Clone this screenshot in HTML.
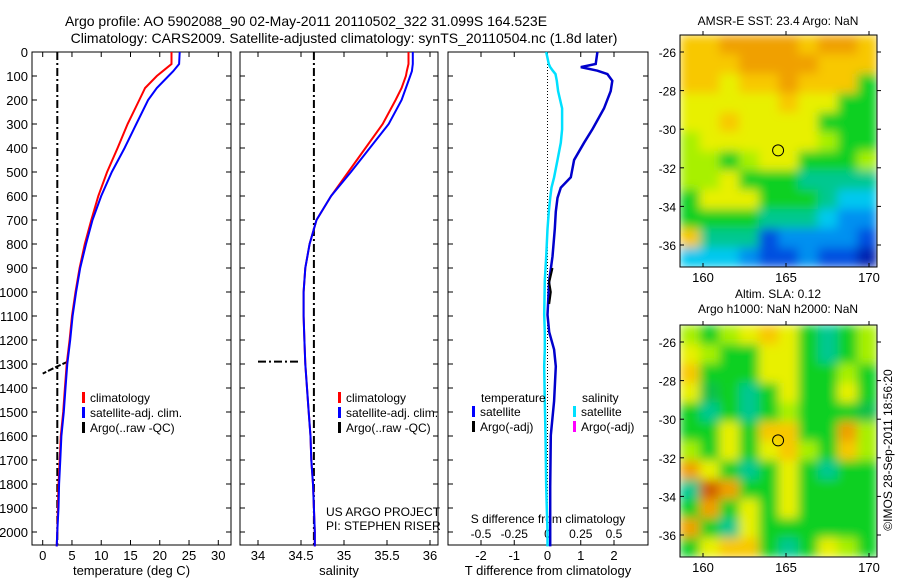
<!DOCTYPE html>
<html><head><meta charset="utf-8">
<style>
html,body{margin:0;padding:0;background:#fff;}
svg{display:block;font-family:"Liberation Sans",sans-serif;}
</style></head>
<body>
<svg id="chart" width="900" height="580" viewBox="0 0 900 580" xmlns="http://www.w3.org/2000/svg">
<defs>
<filter id="blur" x="0" y="0" width="1" height="1"><feGaussianBlur stdDeviation="5" edgeMode="duplicate"/></filter>
<clipPath id="clip1"><rect x="680" y="35" width="197" height="232"/></clipPath>
<clipPath id="clip2"><rect x="680" y="325" width="197" height="232"/></clipPath>
</defs>
<text x="306" y="26" font-size="14" text-anchor="middle">Argo profile: AO 5902088_90 02-May-2011 20110502_322 31.099S 164.523E</text>
<text x="344" y="43" font-size="14" text-anchor="middle">Climatology: CARS2009. Satellite-adjusted climatology: synTS_20110504.nc (1.8d later)</text>
<g id="g"></g>
</svg>
<script>
// ---- data ----
const depthTicks=[0,100,200,300,400,500,600,700,800,900,1000,1100,1200,1300,1400,1500,1600,1700,1800,1900,2000];
const tempTicks=[0,5,10,15,20,25,30];
const salTicks=[34,34.5,35,35.5,36];
const tdiffTicks=[-2,-1,0,1,2];
const sdiffTicks=[-0.5,-0.25,0,0.25,0.5];
const sdiffLabels=["-0.5","-0.25","0","0.25","0.5"];
const tempClimDepth=[0,50,80,100,150,200,300,400,500,600,700,800,900,1000,1100,1200,1300,1400,1500,1600,1700,1800,1900,2000,2060];
const tempClim=[22,22,20.5,19.5,17.5,16.5,14.5,12.8,11,9.5,8.3,7.2,6.3,5.6,5,4.6,4.1,3.8,3.5,3.1,2.9,2.7,2.6,2.5,2.4];
const tempSat=[23.4,23.3,22.3,21.5,19.5,18,16,14,11.8,10,8.5,7.4,6.4,5.7,5.1,4.7,4.2,3.9,3.6,3.2,3,2.8,2.7,2.5,2.4];
const salClim=[35.75,35.75,35.73,35.72,35.67,35.6,35.45,35.25,35.05,34.85,34.68,34.6,34.55,34.53,34.53,34.54,34.55,34.57,34.59,34.61,34.62,34.64,34.65,34.66,34.66];
const salSat=[35.8,35.8,35.79,35.77,35.72,35.67,35.52,35.3,35.08,34.85,34.68,34.6,34.55,34.53,34.53,34.54,34.55,34.57,34.59,34.61,34.62,34.64,34.65,34.66,34.66];
const argoTemp=2.5, argoSal=34.65;
const diffDepth=[0,50,63,78,92,120,163,235,322,378,450,522,565,608,665,737,852,952,1095,1167,1240,1310,1454,1597,1812,2000,2060];
const tDiff=[1.5,1.45,1.0,1.5,1.8,1.95,1.9,1.7,1.35,1.1,0.8,0.7,0.4,0.3,0.25,0.22,0.15,0.05,0,0.05,0.2,0.25,0.2,0.1,0.08,0.08,0.08];
const sDiff=[-0.01,0.01,0.02,0.04,0.06,0.07,0.08,0.11,0.11,0.1,0.075,0.05,0.03,0.02,0.01,0.0,-0.01,-0.02,-0.025,-0.02,-0.02,-0.025,-0.02,-0.015,-0.01,0,0];
const latTicks=[-26,-28,-30,-32,-34,-36];
const lonTicks=[160,165,170];
const sstGrid=["YYOOOOYOOY","YYYOOOOYYY","YYyYYOYYYg","yyyyyYyygg","yyYyyyyggg","lyyyyyylgg","llglyygggl","llygggtttt","gyyygggtcc","ggggtttcbb","YtttBbbbbB","cccbBBbBBD"];
const slaGrid=["lglyYygtgl","ylggyygtgl","Ygggyygglg","yGgtgyggyg","gtgtglgggG","ggygYYggOl","lgygyYlgYl","Oygtgygtgg","tROggygggg","gOgygygggg","Ogtygggggg","gyYYgtgylg"];
const colors={O:"#f0a000",Y:"#f8c800",y:"#e8f000",l:"#a8f000",g:"#10d020",G:"#10c048",t:"#00c890",c:"#00c8f0",b:"#0090f0",B:"#0050e0",D:"#0020b0",R:"#d06000"};
// ---- helpers ----
const NS="http://www.w3.org/2000/svg";
const G=document.getElementById('g');
function mk(t,a,p){const e=document.createElementNS(NS,t);for(const k in a)e.setAttribute(k,a[k]);(p||G).appendChild(e);return e;}
const yTop=52, yPerD=0.24, yBot=545;
const yD=d=>yTop+d*yPerD;
function panel(x0,x1,name,xs,ticks,labels,xlabel,leftLabels){
  const r=mk('rect',{x:x0,y:yTop,width:x1-x0,height:yBot-yTop,fill:'none',stroke:'#000','stroke-width':1});
  
  
  depthTicks.forEach(d=>{
    mk('line',{x1:x0,x2:x0+5,y1:yD(d),y2:yD(d),stroke:'#000'});
    mk('line',{x1:x1,x2:x1-5,y1:yD(d),y2:yD(d),stroke:'#000'});
    if(leftLabels){const t=mk('text',{x:x0-4,y:yD(d)+5,'font-size':13,'text-anchor':'end'});t.textContent=d;
      
      }
  });
  ticks.forEach((v,i)=>{
    mk('line',{x1:xs(v),x2:xs(v),y1:yBot,y2:yBot-5,stroke:'#000'});
    mk('line',{x1:xs(v),x2:xs(v),y1:yTop,y2:yTop+5,stroke:'#000'});
    const t=mk('text',{x:xs(v),y:yBot+15,'font-size':13,'text-anchor':'middle'});t.textContent=labels[i];
    
    
  });
  const t=mk('text',{x:(x0+x1)/2,y:575,'font-size':13,'text-anchor':'middle'});t.textContent=xlabel;
  
  
}
function line(xs,vals,depths,color,w,name,dash){
  const pts=vals.map((v,i)=>xs(v).toFixed(1)+','+yD(depths[i]).toFixed(1)).join(' ');
  const p=mk('polyline',{points:pts,fill:'none',stroke:color,'stroke-width':w});
  if(dash)p.setAttribute('stroke-dasharray',dash);
  
  
}
function legend(x,y,items){
  items.forEach((it,i)=>{
    mk('rect',{x:x,y:y+i*15-10,width:3,height:11,fill:it[1]});
    const t=mk('text',{x:x+8,y:y+i*15,'font-size':12});t.textContent=it[0];
    
    
  });
}
// Panel 1 temperature
const xT=v=>42.7+v*5.853;
panel(32,231,'temperature-panel',xT,tempTicks,tempTicks.map(String),'temperature (deg C)',true);
line(xT,[argoTemp,argoTemp],[0,2060],'#000',2,'argo-temperature-line','8,3,2,3');
line(xT,[4.3,2.5,0],[1290,1310,1340],'#000',2,'argo-temperature-spike','6,2');
line(xT,tempClim,tempClimDepth,'#f00',2,'climatology-temperature-line');
line(xT,tempSat,tempClimDepth,'#00f',2,'satellite-temperature-line');
legend(82,402,[['climatology','#f00'],['satellite-adj. clim.','#00f'],['Argo(..raw -QC)','#000']]);
// Panel 2 salinity
const xS=v=>258+(v-34)*86;
panel(240,438,'salinity-panel',xS,salTicks,salTicks.map(String),'salinity',false);
line(xS,[argoSal,argoSal],[0,2060],'#000',2,'argo-salinity-line','8,3,2,3');
line(xS,[34.0,34.5],[1290,1290],'#000',2,'argo-salinity-spike','8,3,2,3');
line(xS,salClim,tempClimDepth,'#f00',2,'climatology-salinity-line');
line(xS,salSat,tempClimDepth,'#00f',2,'satellite-salinity-line');
legend(338,402,[['climatology','#f00'],['satellite-adj. clim.','#00f'],['Argo(..raw -QC)','#000']]);
[['US ARGO PROJECT',516],['PI: STEPHEN RISER',530]].forEach(a=>{const t=mk('text',{x:326,y:a[1],'font-size':12});t.textContent=a[0];
  
  });
// Panel 3 differences
const xD=v=>547.5+v*33.25;
const xSd=v=>547.5+v*133;
panel(448,648,'difference-panel',xD,tdiffTicks,tdiffTicks.map(String),'T difference from climatology',false);
sdiffTicks.forEach((v,i)=>{const t=mk('text',{x:xSd(v),y:538,'font-size':12,'text-anchor':'middle'});t.textContent=sdiffLabels[i];
  
  });
const st=mk('text',{x:548,y:523,'font-size':12,'text-anchor':'middle'});st.textContent='S difference from climatology';


line(xD,[0,0],[0,2060],'#000',1,'zero-line','1,2');
line(xSd,sDiff,diffDepth,'#00e0ff',2.5,'salinity-difference-line');
line(xD,tDiff,diffDepth,'#00c',2.5,'temperature-difference-line');
line(xD,[0.15,0.05,0.1,0.05],[900,960,1000,1050],'#000',2,'argo-temperature-difference');
const l1=mk('text',{x:481,y:402,'font-size':12});l1.textContent='temperature';

const l2=mk('text',{x:582,y:402,'font-size':12});l2.textContent='salinity';

legend(472,416,[['satellite','#00f'],['Argo(-adj)','#000']]);
legend(573,416,[['satellite','#00e0ff'],['Argo(-adj)','#f0f']]);
// Maps
function map(y0,y1,latY,grid,name,titles,clip){
  const x0=680,x1=877;
  const lonX=v=>703+(v-160)*16.6;
  const latA=latY[0],latB=latY[1];
  const latYf=v=>latA+(v+26)/(-10)*(latB-latA);
  const rows=grid.length,cols=10;
  const cw=(x1-x0)/cols,ch=(y1-y0)/rows;
  const outer=mk('g',{'clip-path':'url(#'+clip+')'});
  
  
  const gg=mk('g',{filter:'url(#blur)'},outer);
  grid.forEach((row,r)=>{for(let c=0;c<cols;c++){
    mk('rect',{x:x0+c*cw,y:y0+r*ch,width:cw+0.5,height:ch+0.5,fill:colors[row[c]]||colors.g},gg);
  }});
  const fr=mk('rect',{x:x0,y:y0,width:x1-x0,height:y1-y0,fill:'none',stroke:'#000'});
  
  
  latTicks.forEach(v=>{const y=latYf(v);mk('line',{x1:x0,x2:x0+4,y1:y,y2:y,stroke:'#000'});mk('line',{x1:x1,x2:x1+4,y1:y,y2:y,stroke:'#000'});
    const t=mk('text',{x:676,y:y+5,'font-size':12,'text-anchor':'end'});t.textContent=v;
    });
  lonTicks.forEach(v=>{const x=lonX(v);mk('line',{x1:x,x2:x,y1:y0,y2:y0-4,stroke:'#000'});mk('line',{x1:x,x2:x,y1:y1,y2:y1-4,stroke:'#000'});
    const t=mk('text',{x:x,y:y1+15,'font-size':13,'text-anchor':'middle'});t.textContent=v;
    });
  const m=mk('circle',{cx:lonX(164.523),cy:latYf(-31.099),r:5.5,fill:'none',stroke:'#000'});
  
  
  titles.forEach((s,i)=>{const t=mk('text',{x:778,y:titles.length==1?y0-10:y0-27+i*15,'font-size':12,'text-anchor':'middle'});t.textContent=s;
    });
}
map(35,267,[52,245],sstGrid,'sst-map',['AMSR-E SST: 23.4  Argo: NaN'],'clip1');
map(325,557,[342,535],slaGrid,'sla-map',['Altim. SLA: 0.12','Argo h1000: NaN h2000: NaN'],'clip2');
const cr=mk('text',{x:0,y:0,'font-size':12,'text-anchor':'middle',transform:'translate(892,450) rotate(-90)'});cr.textContent='©IMOS 28-Sep-2011 18:56:20';


</script>
</body></html>
